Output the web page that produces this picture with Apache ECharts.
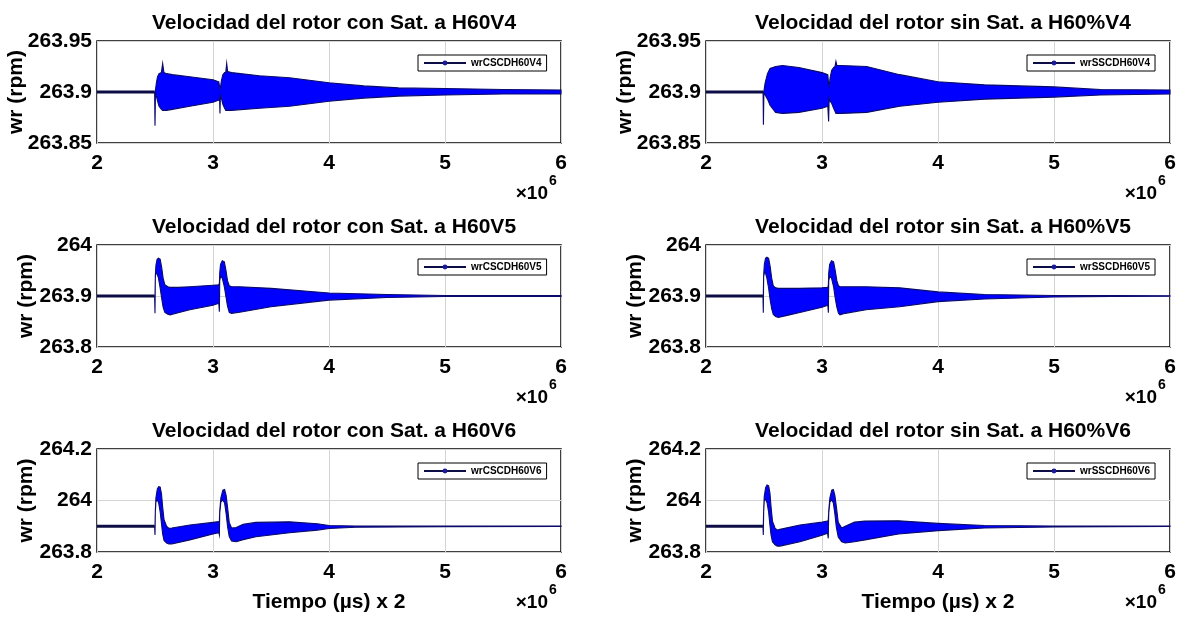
<!DOCTYPE html>
<html>
<head>
<meta charset="utf-8">
<script src="https://cdn.jsdelivr.net/npm/echarts@6/dist/echarts.min.js"></script>
<style>
html,body{margin:0;padding:0;background:#fff;}
#main{width:1179px;height:621px;}
</style>
</head>
<body>
<div id="main"></div>
<script>
// tiempo en unidades x10^6, velocidad en rpm
var xTicks = [2, 3, 4, 5, 6];
var yTicksV4 = [263.85, 263.9, 263.95];
var yTicksV5 = [263.8, 263.9, 264];
var yTicksV6 = [263.8, 264, 264.2];

// envolventes (superior / inferior) de la oscilacion
var tA  = [2.497, 2.500, 2.504, 2.512, 2.522, 2.535, 2.555, 2.566, 2.577, 2.60, 2.65, 2.80, 3.00, 3.050, 3.057, 3.060, 3.064, 3.072, 3.085, 3.100, 3.110, 3.118, 3.126, 3.160, 3.40, 3.66, 4.00, 4.30, 4.60, 5.00, 5.50, 6.00];
var upA = [263.900, 263.900, 263.902, 263.909, 263.915, 263.918, 263.919, 263.928, 263.919, 263.918, 263.917, 263.915, 263.912, 263.910, 263.905, 263.903, 263.904, 263.911, 263.917, 263.919, 263.919, 263.928, 263.920, 263.919, 263.916, 263.914, 263.909, 263.906, 263.904, 263.9035, 263.9025, 263.902];
var loA = [263.900, 263.867, 263.899, 263.896, 263.891, 263.886, 263.883, 263.882, 263.882, 263.882, 263.883, 263.886, 263.890, 263.892, 263.894, 263.879, 263.897, 263.894, 263.888, 263.884, 263.882, 263.882, 263.882, 263.882, 263.884, 263.886, 263.891, 263.894, 263.896, 263.897, 263.898, 263.898];

var tB  = [2.492, 2.495, 2.499, 2.510, 2.530, 2.552, 2.600, 2.660, 2.800, 3.000, 3.050, 3.057, 3.062, 3.070, 3.083, 3.100, 3.112, 3.120, 3.128, 3.160, 3.385, 3.670, 4.000, 4.400, 5.000, 5.400, 6.000];
var upB = [263.900, 263.900, 263.901, 263.909, 263.918, 263.923, 263.925, 263.926, 263.924, 263.919, 263.917, 263.908, 263.906, 263.914, 263.921, 263.924, 263.925, 263.930, 263.926, 263.926, 263.925, 263.917, 263.910, 263.907, 263.905, 263.9025, 263.902];
var loB = [263.900, 263.868, 263.899, 263.897, 263.893, 263.887, 263.880, 263.879, 263.880, 263.884, 263.886, 263.871, 263.894, 263.891, 263.889, 263.884, 263.881, 263.879, 263.879, 263.879, 263.880, 263.886, 263.890, 263.893, 263.895, 263.897, 263.898];

var tC  = [2.497, 2.500, 2.503, 2.508, 2.518, 2.530, 2.545, 2.558, 2.570, 2.585, 2.610, 2.630, 2.700, 2.800, 3.000, 3.050, 3.055, 3.058, 3.065, 3.080, 3.098, 3.112, 3.125, 3.140, 3.160, 3.230, 3.500, 4.000, 4.500, 5.000, 6.000];
var upC = [263.900, 263.900, 263.940, 263.960, 263.972, 263.974, 263.972, 263.955, 263.935, 263.922, 263.918, 263.917, 263.917, 263.918, 263.921, 263.922, 263.925, 263.945, 263.962, 263.969, 263.967, 263.950, 263.930, 263.920, 263.918, 263.918, 263.915, 263.906, 263.903, 263.901, 263.901];
var loC = [263.900, 263.866, 263.938, 263.944, 263.944, 263.935, 263.915, 263.895, 263.878, 263.868, 263.864, 263.863, 263.867, 263.873, 263.882, 263.886, 263.869, 263.930, 263.938, 263.935, 263.918, 263.898, 263.880, 263.868, 263.866, 263.868, 263.879, 263.892, 263.897, 263.899, 263.899];

var tD  = [2.491, 2.494, 2.497, 2.503, 2.513, 2.525, 2.540, 2.553, 2.566, 2.580, 2.600, 2.623, 2.700, 2.800, 3.000, 3.050, 3.055, 3.058, 3.066, 3.082, 3.100, 3.114, 3.128, 3.142, 3.155, 3.200, 3.380, 3.670, 4.000, 4.400, 5.000, 5.500, 6.000];
var upD = [263.900, 263.900, 263.940, 263.962, 263.974, 263.976, 263.974, 263.958, 263.935, 263.920, 263.916, 263.915, 263.915, 263.915, 263.916, 263.917, 263.922, 263.945, 263.962, 263.969, 263.967, 263.950, 263.930, 263.920, 263.918, 263.918, 263.918, 263.916, 263.908, 263.903, 263.901, 263.9008, 263.9005];
var loD = [263.900, 263.867, 263.938, 263.945, 263.945, 263.935, 263.915, 263.893, 263.875, 263.864, 263.860, 263.858, 263.862, 263.867, 263.878, 263.882, 263.867, 263.930, 263.938, 263.935, 263.918, 263.896, 263.878, 263.866, 263.863, 263.866, 263.873, 263.879, 263.889, 263.894, 263.898, 263.899, 263.8995];

var tE  = [2.497, 2.500, 2.503, 2.508, 2.520, 2.532, 2.545, 2.556, 2.566, 2.578, 2.600, 2.620, 2.645, 2.800, 3.000, 3.050, 3.055, 3.058, 3.068, 3.085, 3.100, 3.113, 3.125, 3.140, 3.160, 3.200, 3.260, 3.370, 3.660, 3.900, 4.000, 4.230, 5.000, 6.000];
var upE = [263.900, 263.900, 263.960, 264.010, 264.045, 264.054, 264.052, 264.025, 263.975, 263.925, 263.900, 263.892, 263.893, 263.905, 263.915, 263.918, 263.920, 263.960, 264.010, 264.040, 264.043, 264.020, 263.975, 263.915, 263.893, 263.895, 263.908, 263.915, 263.917, 263.910, 263.903, 263.901, 263.901, 263.901];
var loE = [263.900, 263.866, 263.955, 263.995, 264.002, 263.990, 263.955, 263.910, 263.870, 263.845, 263.835, 263.831, 263.831, 263.847, 263.870, 263.875, 263.866, 263.950, 263.995, 264.002, 263.990, 263.950, 263.900, 263.860, 263.843, 263.840, 263.848, 263.859, 263.875, 263.885, 263.891, 263.896, 263.898, 263.899];

var tF  = [2.491, 2.494, 2.497, 2.502, 2.514, 2.526, 2.540, 2.551, 2.561, 2.573, 2.595, 2.615, 2.638, 2.810, 3.000, 3.048, 3.054, 3.058, 3.068, 3.084, 3.098, 3.111, 3.124, 3.140, 3.170, 3.200, 3.280, 3.370, 3.660, 4.000, 4.400, 5.000, 6.000];
var upF = [263.900, 263.900, 263.960, 264.015, 264.050, 264.060, 264.057, 264.030, 263.975, 263.920, 263.893, 263.885, 263.888, 263.905, 263.916, 263.920, 263.922, 263.960, 264.010, 264.040, 264.043, 264.020, 263.975, 263.915, 263.893, 263.900, 263.916, 263.920, 263.921, 263.911, 263.903, 263.901, 263.901];
var loF = [263.900, 263.866, 263.955, 263.998, 264.005, 263.992, 263.955, 263.905, 263.865, 263.840, 263.828, 263.823, 263.823, 263.840, 263.865, 263.873, 263.853, 263.950, 263.995, 264.002, 263.990, 263.948, 263.895, 263.858, 263.840, 263.835, 263.840, 263.847, 263.870, 263.883, 263.893, 263.897, 263.899];

var vBase = 263.9;   // valor antes de la perturbacion

var plots = [
    {name: 'wrCSCDH60V4', title: 'Velocidad del rotor con Sat. a H60V4', t: tA, up: upA, lo: loA, yt: yTicksV4},
    {name: 'wrSSCDH60V4', title: 'Velocidad del rotor sin Sat. a H60%V4', t: tB, up: upB, lo: loB, yt: yTicksV4},
    {name: 'wrCSCDH60V5', title: 'Velocidad del rotor con Sat. a H60V5', t: tC, up: upC, lo: loC, yt: yTicksV5},
    {name: 'wrSSCDH60V5', title: 'Velocidad del rotor sin Sat. a H60%V5', t: tD, up: upD, lo: loD, yt: yTicksV5},
    {name: 'wrCSCDH60V6', title: 'Velocidad del rotor con Sat. a H60V6', t: tE, up: upE, lo: loE, yt: yTicksV6},
    {name: 'wrSSCDH60V6', title: 'Velocidad del rotor sin Sat. a H60%V6', t: tF, up: upF, lo: loF, yt: yTicksV6}
];

var FONT = 'Liberation Sans, Arial, Helvetica, sans-serif';
var colLeft = [97, 706];
var rowTop = [41, 245, 449];
var gridW = 464, gridH = [102, 102, 103];
var yNameGap = [70, 60, 60];

var myChart = echarts.init(document.getElementById('main'));

var grids = [], xAxes = [], yAxes = [], titles = [], legends = [], series = [], graphics = [];

plots.forEach(function (p, i) {
    var col = i % 2, row = Math.floor(i / 2);
    var left = colLeft[col], top = rowTop[row], h = gridH[row];
    grids.push({left: left, top: top, width: gridW, height: h, show: true,
        borderColor: '#000', borderWidth: 1.5, backgroundColor: '#fff'});
    xAxes.push({
        type: 'value', gridIndex: i, min: xTicks[0], max: xTicks[xTicks.length - 1], interval: 1,
        axisLine: {show: false}, axisTick: {show: false},
        axisLabel: {color: '#000', fontFamily: FONT, fontWeight: 'bold', fontSize: 21, margin: 10},
        splitLine: {show: true, lineStyle: {color: '#d4d4d4', width: 1}},
        name: row === 2 ? 'Tiempo (\u00b5s) x 2' : '', nameLocation: 'middle', nameGap: 40,
        nameMoveOverlap: false,
        nameTextStyle: {color: '#000', fontFamily: FONT, fontWeight: 'bold', fontSize: 21}
    });
    var yt = p.yt;
    yAxes.push({
        type: 'value', gridIndex: i, min: yt[0], max: yt[yt.length - 1],
        interval: +(yt[1] - yt[0]).toFixed(3),
        axisLine: {show: false}, axisTick: {show: false},
        axisLabel: {color: '#000', fontFamily: FONT, fontWeight: 'bold', fontSize: 21, margin: 5,
            formatter: function (v) { return String(+v.toFixed(3)); }},
        splitLine: {show: true, lineStyle: {color: '#d4d4d4', width: 1}},
        name: 'wr (rpm)', nameLocation: 'middle', nameGap: yNameGap[row], nameRotate: 90,
        nameMoveOverlap: false,
        nameTextStyle: {color: '#000', fontFamily: FONT, fontWeight: 'bold', fontSize: 21}
    });
    titles.push({text: p.title, left: left + gridW / 2, top: top - 33, textAlign: 'center',
        textStyle: {color: '#000', fontFamily: FONT, fontWeight: 'bold', fontSize: 21}});
    legends.push({
        data: [p.name], left: left + 321, top: top + 14,
        orient: 'horizontal', padding: [3, 5], itemWidth: 42, itemHeight: 6, itemGap: 4,
        borderColor: '#000', borderWidth: 1, backgroundColor: '#fff',
        textStyle: {color: '#000', fontFamily: FONT, fontWeight: 'bold', fontSize: 10}
    });
    // banda de oscilacion
    var rows = p.t.map(function (x, k) { return [x, p.lo[k], p.up[k]]; });
    series.push({
        type: 'custom', xAxisIndex: i, yAxisIndex: i, silent: true, z: 3,
        encode: {x: 0, y: [1, 2]},
        data: rows,
        renderItem: function (params, api) {
            if (params.dataIndex !== 0) return;
            var pts = [], k;
            for (k = 0; k < p.t.length; k++) pts.push(api.coord([p.t[k], p.up[k]]));
            for (k = p.t.length - 1; k >= 0; k--) pts.push(api.coord([p.t[k], p.lo[k]]));
            return {type: 'polygon', shape: {points: pts},
                style: {fill: '#0000ff', stroke: '#0a0a6a', lineWidth: 1.1}};
        }
    });
    // tramo estable antes de la perturbacion
    series.push({
        name: p.name, type: 'line', xAxisIndex: i, yAxisIndex: i, z: 4,
        data: [[xTicks[0], vBase], [p.t[0], vBase]],
        symbol: 'circle', symbolSize: 3, showSymbol: false,
        itemStyle: {color: '#1a1a9a'},
        lineStyle: {color: '#0d0d45', width: 3}
    });
    // x10^6
    var gx = left + gridW, gy = top + h + 50;
    graphics.push({type: 'text', right: 1179 - gx + 13, top: gy - 9,
        style: {text: '\u00d710', font: 'bold 19px ' + FONT, fill: '#000'}});
    graphics.push({type: 'text', left: gx - 12, top: gy - 19,
        style: {text: '6', font: 'bold 14px ' + FONT, fill: '#000'}});
});

var option = {
    backgroundColor: '#fff',
    animation: false,
    title: titles,
    legend: legends,
    grid: grids,
    xAxis: xAxes,
    yAxis: yAxes,
    series: series,
    graphic: graphics
};
myChart.setOption(option);
</script>
</body>
</html>
